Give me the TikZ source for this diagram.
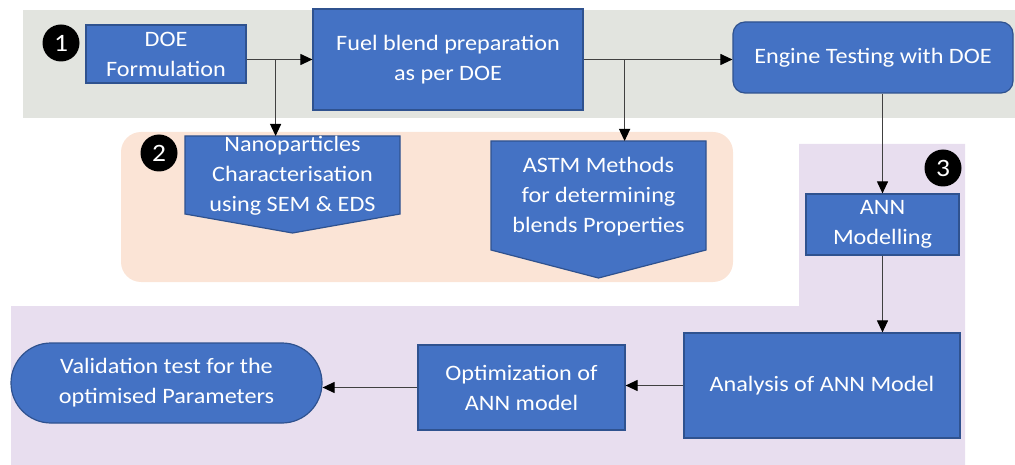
\documentclass[tikz,border=0pt]{standalone}
\usepackage{fontspec}
\setmainfont{Carlito}[FakeStretch=1.1]
\usetikzlibrary{arrows.meta,positioning,calc,backgrounds}

\definecolor{boxblue}{HTML}{4472C4}
\definecolor{boxedge}{HTML}{2F528F}
\definecolor{zonegray}{HTML}{E2E4DF}
\definecolor{zonepeach}{HTML}{FBE4D6}
\definecolor{zonelilac}{HTML}{E8DEEF}
\definecolor{linkgray}{HTML}{404040}

\tikzset{
  fc/text/.style={text=white, font=\fontsize{22}{30}\selectfont, align=center},
  fc/process/.style={fc/text, draw=boxedge, fill=boxblue, line width=1.2pt, inner sep=0pt},
  fc/start/.style={fc/process, rounded corners=12pt},
  fc/terminal/.style={fc/process, rounded corners=40pt},
  fc/offpage/.style={fc/text, inner sep=0pt}, % outline is drawn on the background layer
  fc/offpage shape/.style={draw=boxedge, fill=boxblue, line width=1.2pt},
  fc/badge/.style={circle, fill=black, text=white, inner sep=0pt, minimum size=37pt, font=\fontsize{25}{25}\selectfont},
  fc/link/.style={draw=linkgray, line width=1.1pt, -{Triangle[length=12pt, width=11pt, color=black]}}
}

\begin{document}
\begin{tikzpicture}[x=1pt, y=-1pt]
  \useasboundingbox (0,0) rectangle (1015,465);

  % shaded stage zones
  \begin{scope}[on background layer]
    \fill[zonegray] (23,10) rectangle (1015,118);
    \fill[zonepeach, rounded corners=20pt] (121,132) rectangle (733,282);
    \fill[zonelilac] (799,144) -- (965,144) -- (965,465) -- (11,465) -- (11,306) -- (799,306) -- cycle;
  \end{scope}

  % stage 1
  \node[fc/process, minimum width=160pt, minimum height=58pt] (doe) at (166,54) {DOE\\Formulation};
  \node[fc/process, minimum width=270pt, minimum height=101pt] (fuel) at (448,59.5) {Fuel blend preparation\\as per DOE};
  \node[fc/start, minimum width=280pt, minimum height=71pt] (engine) at (873,57.5) {Engine Testing with DOE};

  % stage 2
  \node[fc/offpage, minimum width=215pt, minimum height=78pt] (nano) at (292.5,176) {Nanoparticles\\Characterisation\\using SEM \& EDS};
  \node[fc/offpage, minimum width=215pt, minimum height=109pt] (astm) at (598.5,196.5) {ASTM Methods\\for determining\\blends Properties};
  \begin{scope}[on background layer]
    \path[fc/offpage shape] ([shift={(-107.5,-40)}]nano.center) -- ++(215,0) -- ++(0,78) -- ++(-107.5,19) -- ++(-107.5,-19) -- cycle;
    \path[fc/offpage shape] ([shift={(-107.5,-55.5)}]astm.center) -- ++(215,0) -- ++(0,109) -- ++(-107.5,28) -- ++(-107.5,-28) -- cycle;
  \end{scope}

  % stage 3
  \node[fc/process, minimum width=153pt, minimum height=61pt] (ann) at (882.5,224.5) {ANN\\Modelling};
  \node[fc/process, minimum width=276pt, minimum height=105pt] (analysis) at (822,385.5) {Analysis of ANN Model};
  \node[fc/process, minimum width=207pt, minimum height=85pt] (optim) at (521.5,387.5) {Optimization of\\ANN model};
  \node[fc/terminal, minimum width=311pt, minimum height=80pt] (valid) at (166.5,383) {Validation test for the\\optimised Parameters};

  % stage numbers
  \node[fc/badge] (one) at (61,43) {1};
  \node[fc/badge] (two) at (159,153) {2};
  \node[fc/badge] (three) at (943,168) {3};

  % links
  \coordinate (split1) at ($(doe.east |- fuel.west)+(29,0)$);
  \coordinate (split2) at ($(fuel.east)+(41,0)$);
  \draw[fc/link] (doe.east |- fuel.west) -- (fuel.west);
  \draw[fc/link] (split1) -- (split1 |- 0,136);
  \draw[fc/link] (fuel.east) -- (fuel.east -| engine.west);
  \draw[fc/link] (split2) -- (split2 |- 0,141);
  \draw[fc/link] (ann.north |- engine.south) -- (ann.north);
  \draw[fc/link] (ann.south) -- (ann.south |- analysis.north);
  \draw[fc/link] (analysis.west) -- (analysis.west -| optim.east);
  \draw[fc/link] (optim.west) -- (optim.west -| valid.east);
\end{tikzpicture}
\end{document}
